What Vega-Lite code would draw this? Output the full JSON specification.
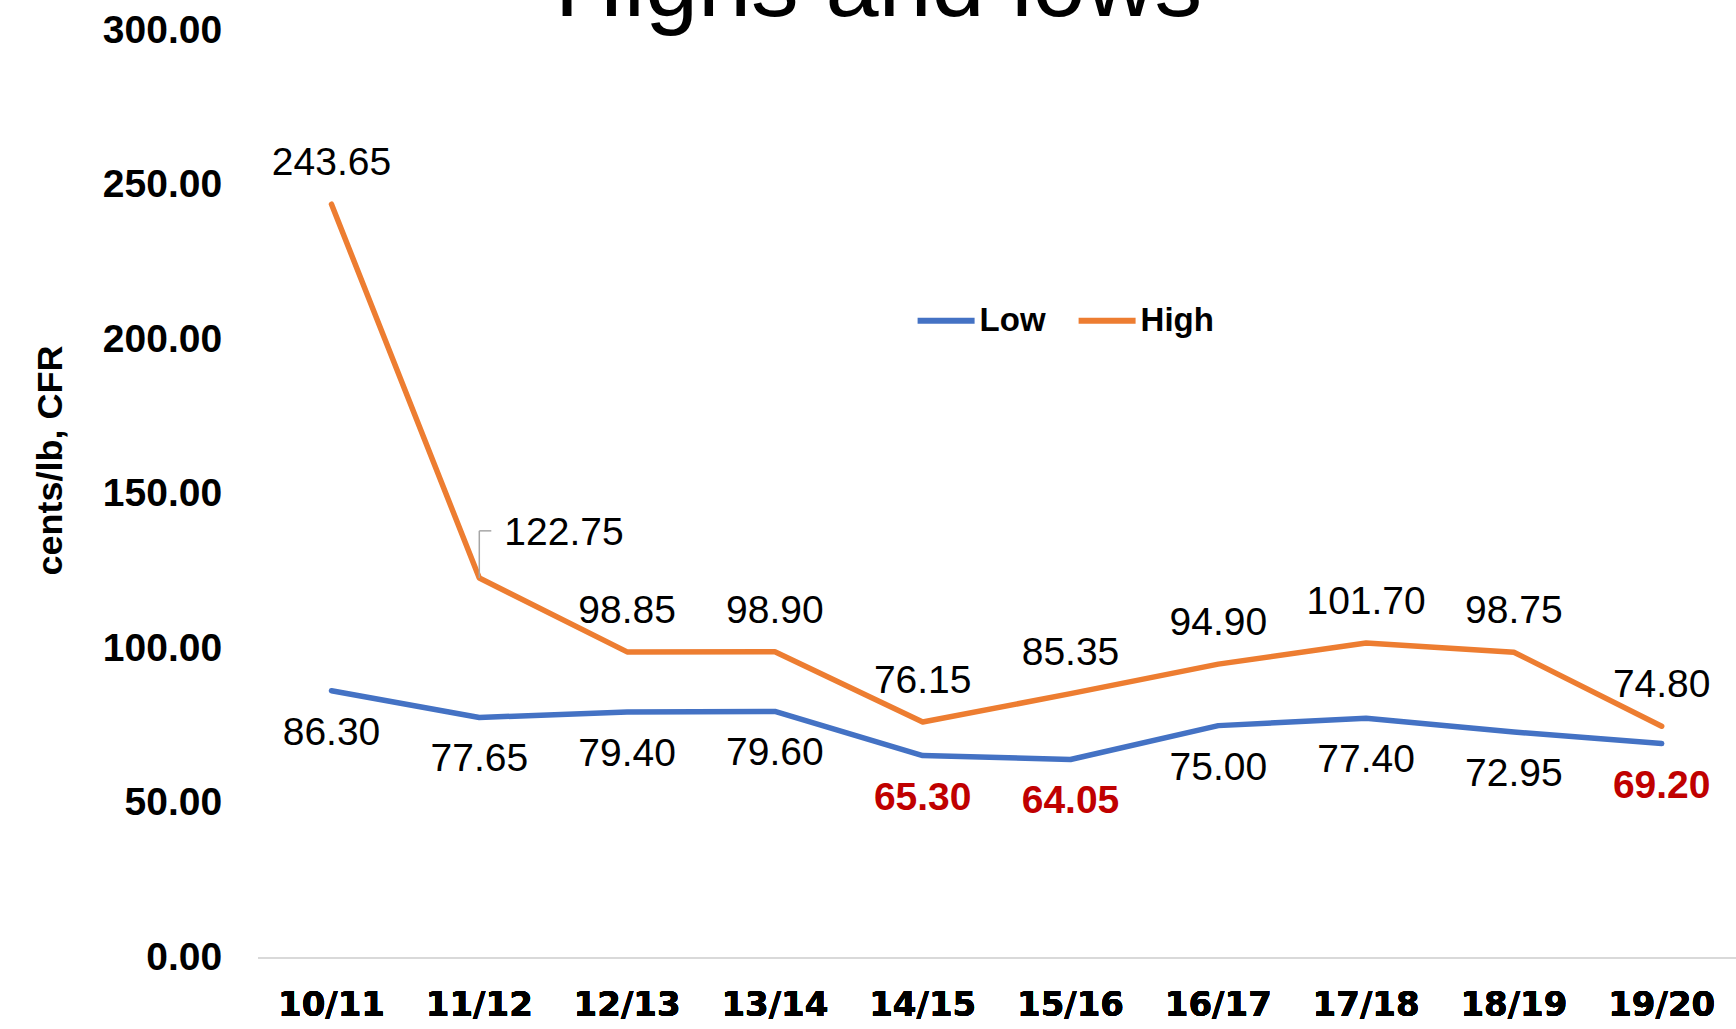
{
  "$schema": "https://vega.github.io/schema/vega-lite/v6.json",
  "autosize": {"type": "none"},
  "width": 1478,
  "height": 927.5,
  "padding": {"left": 257.6, "top": 30, "right": 0, "bottom": 71.5},
  "background": "white",
  "config": {"view": {"stroke": null}},
  "data": {
    "values": [
      {"season": "10/11", "series": "Low", "value": 86.30},
      {"season": "11/12", "series": "Low", "value": 77.65},
      {"season": "12/13", "series": "Low", "value": 79.40},
      {"season": "13/14", "series": "Low", "value": 79.60},
      {"season": "14/15", "series": "Low", "value": 65.30},
      {"season": "15/16", "series": "Low", "value": 64.05},
      {"season": "16/17", "series": "Low", "value": 75.00},
      {"season": "17/18", "series": "Low", "value": 77.40},
      {"season": "18/19", "series": "Low", "value": 72.95},
      {"season": "19/20", "series": "Low", "value": 69.20},
      {"season": "10/11", "series": "High", "value": 243.65},
      {"season": "11/12", "series": "High", "value": 122.75},
      {"season": "12/13", "series": "High", "value": 98.85},
      {"season": "13/14", "series": "High", "value": 98.90},
      {"season": "14/15", "series": "High", "value": 76.15},
      {"season": "15/16", "series": "High", "value": 85.35},
      {"season": "16/17", "series": "High", "value": 94.90},
      {"season": "17/18", "series": "High", "value": 101.70},
      {"season": "18/19", "series": "High", "value": 98.75},
      {"season": "19/20", "series": "High", "value": 74.80}
    ]
  },
  "encoding": {
    "x": {
      "field": "season",
      "type": "nominal",
      "sort": null,
      "scale": {"paddingInner": 0, "paddingOuter": 0},
      "axis": {
        "title": null,
        "orient": "bottom",
        "labelAngle": 0,
        "labelFont": "DejaVu Sans",
        "labelFontWeight": "bold",
        "labelFontSize": 34,
        "labelColor": "#000000",
        "labelBaseline": "middle",
        "labelPadding": 48,
        "ticks": false,
        "tickSize": 0,
        "domain": true,
        "domainColor": "#D9D9D9",
        "domainWidth": 2,
        "grid": false
      }
    },
    "y": {
      "field": "value",
      "type": "quantitative",
      "scale": {"domain": [0, 300], "nice": false},
      "axis": {
        "title": "cents/lb, CFR",
        "titleFont": "Liberation Sans",
        "titleFontWeight": "bold",
        "titleFontSize": 36,
        "titleColor": "#000000",
        "titleBaseline": "alphabetic",
        "titleAlign": "center",
        "titleAngle": 270,
        "titleX": -196,
        "titleY": 430,
        "values": [0, 50, 100, 150, 200, 250, 300],
        "format": ".2f",
        "labelFont": "Liberation Sans",
        "labelFontWeight": "bold",
        "labelFontSize": 39,
        "labelColor": "#000000",
        "labelPadding": 36,
        "ticks": false,
        "tickSize": 0,
        "domain": false,
        "grid": false
      }
    }
  },
  "layer": [
    {
      "mark": {"type": "line", "strokeWidth": 5.5, "strokeCap": "round", "strokeJoin": "round"},
      "encoding": {
        "color": {
          "field": "series",
          "type": "nominal",
          "scale": {"domain": ["Low", "High"], "range": ["#4472C4", "#ED7D31"]},
          "legend": {
            "title": null,
            "orient": "none",
            "legendX": 657,
            "legendY": 259,
            "direction": "horizontal",
            "symbolType": "stroke",
            "symbolSize": 3249,
            "symbolStrokeWidth": 6,
            "labelFont": "Liberation Sans",
            "labelFontWeight": "bold",
            "labelFontSize": 33,
            "labelColor": "#000000",
            "labelOffset": 2,
            "columnPadding": 21,
            "padding": 0
          }
        }
      }
    },
    {
      "transform": [{"filter": "datum.series === 'High' && datum.season === '11/12'"}],
      "mark": {"type": "rule", "color": "#A6A6A6", "strokeWidth": 1.5},
      "encoding": {
        "x": {
          "field": "season",
          "type": "nominal",
          "sort": null,
          "scale": {"paddingInner": 0, "paddingOuter": 0},
          "axis": {
            "orient": "top",
            "labels": false,
            "ticks": false,
            "domain": false,
            "grid": false,
            "title": "Highs and lows",
            "titleFont": "Liberation Sans",
            "titleFontSize": 95.5,
            "titleFontWeight": "normal",
            "titleColor": "#000000",
            "titleAngle": 0,
            "titleAlign": "center",
            "titleBaseline": "alphabetic",
            "titleX": 620.4,
            "titleY": -15
          }
        },
        "y2": {"datum": 138}
      }
    },
    {
      "transform": [{"filter": "datum.series === 'High' && datum.season === '11/12'"}],
      "mark": {"type": "rule", "color": "#A6A6A6", "strokeWidth": 1.5, "x2Offset": 12},
      "encoding": {"y": {"datum": 138}, "x2": {"field": "season"}}
    },
    {
      "transform": [{"filter": "datum.series === 'High' && datum.season !== '11/12'"}],
      "mark": {"type": "text", "font": "Liberation Sans", "fontSize": 39, "color": "#000000", "baseline": "middle", "dy": -41},
      "encoding": {"text": {"field": "value", "type": "quantitative", "format": ".2f"}}
    },
    {
      "transform": [{"filter": "datum.series === 'High' && datum.season === '11/12'"}],
      "mark": {"type": "text", "font": "Liberation Sans", "fontSize": 39, "color": "#000000", "baseline": "middle", "dx": 84.7, "dy": -45},
      "encoding": {"text": {"field": "value", "type": "quantitative", "format": ".2f"}}
    },
    {
      "transform": [{"filter": "datum.series === 'Low' && datum.value >= 70"}],
      "mark": {"type": "text", "font": "Liberation Sans", "fontSize": 39, "color": "#000000", "baseline": "middle", "dy": 42},
      "encoding": {"text": {"field": "value", "type": "quantitative", "format": ".2f"}}
    },
    {
      "transform": [{"filter": "datum.series === 'Low' && datum.value < 70"}],
      "mark": {"type": "text", "font": "Liberation Sans", "fontSize": 39, "fontWeight": "bold", "color": "#C00000", "baseline": "middle", "dy": 42},
      "encoding": {"text": {"field": "value", "type": "quantitative", "format": ".2f"}}
    }
  ]
}
